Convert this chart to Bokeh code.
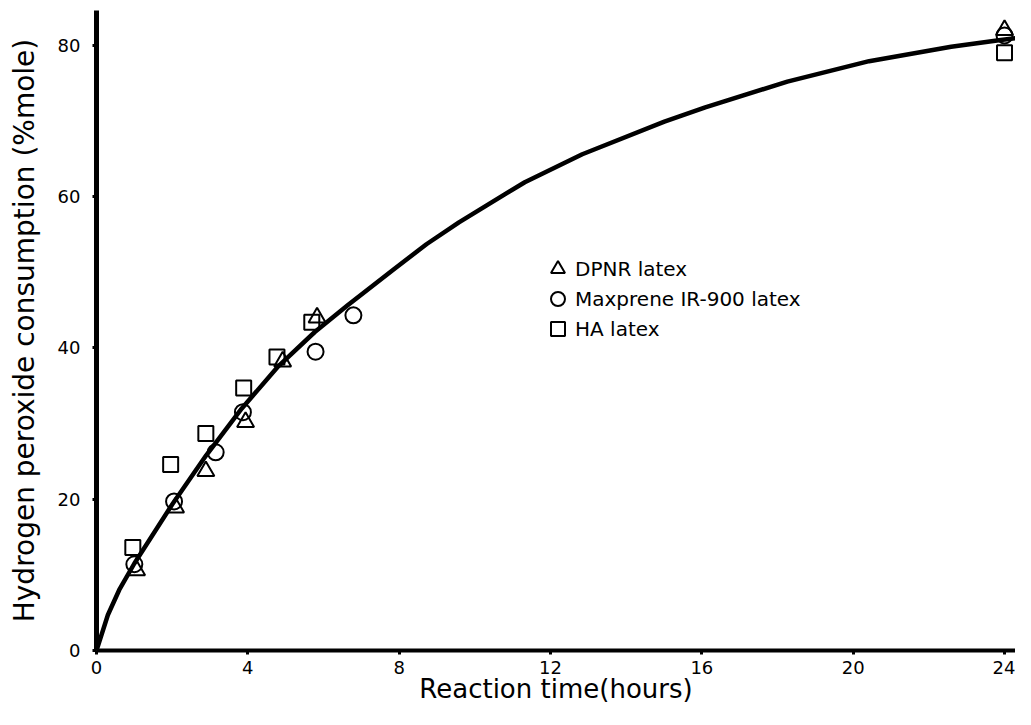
from bokeh.plotting import figure
from bokeh.models import Range1d, Legend, LegendItem, FixedTicker
from bokeh.embed import file_html
from bokeh.resources import INLINE

# ---- data ----
dpnr_time = [1.06, 2.09, 2.89, 3.94, 4.92, 5.83, 24.0]
dpnr_consumption = [10.6, 18.9, 23.7, 30.2, 38.2, 44.0, 82.0]

maxprene_time = [1.00, 2.05, 3.15, 3.87, 5.79, 6.79, 24.0]
maxprene_consumption = [11.4, 19.7, 26.2, 31.5, 39.5, 44.3, 81.3]

ha_time = [0.96, 1.96, 2.89, 3.89, 4.77, 5.69, 24.0]
ha_consumption = [13.6, 24.6, 28.7, 34.7, 38.8, 43.4, 79.0]

fit_time = [0, 0.3, 0.6, 1.0, 2.0, 2.9, 3.84, 4.81, 5.77, 6.63, 7.86, 8.72, 9.58,
            11.32, 12.84, 15.01, 16.09, 18.26, 20.42, 22.59, 23.9, 24.42]
fit_consumption = [0, 4.7, 8.0, 11.5, 19.3, 25.8, 32.0, 37.6, 42.1, 45.6, 50.4, 53.7, 56.6,
                   61.9, 65.6, 69.9, 71.8, 75.2, 77.9, 79.8, 80.7, 81.0]

x_ticks = [0, 4, 8, 12, 16, 20, 24]
y_ticks = [0, 20, 40, 60, 80]

series_labels = ["DPNR latex", "Maxprene IR-900 latex", "HA latex"]

FONT = "DejaVu Sans"

p = figure(width=1015, height=709, output_backend="svg", toolbar_location=None,
           x_range=Range1d(0, 24.29), y_range=Range1d(0, 84.6),
           min_border_left=96, min_border_right=0, min_border_top=10, min_border_bottom=59)
p.outline_line_color = None
p.background_fill_color = "white"
p.border_fill_color = "white"
p.xgrid.visible = False
p.ygrid.visible = False

# fitted curve
p.line(fit_time, fit_consumption, line_width=4.5, line_color="black",
       line_join="round", line_cap="round")

# markers
r_tri = p.scatter(dpnr_time, dpnr_consumption, marker="triangle", size=17,
                  fill_color=None, line_color="black", line_width=2)
r_cir = p.scatter(maxprene_time, maxprene_consumption, marker="circle", size=16,
                  fill_color=None, line_color="black", line_width=2)
r_sq = p.scatter(ha_time, ha_consumption, marker="square", size=15,
                 fill_color=None, line_color="black", line_width=2)

# axes
for ax in (p.xaxis[0], p.yaxis[0]):
    ax.axis_line_color = "black"
    ax.major_tick_line_width = 3
    ax.major_tick_line_color = "black"
    ax.major_tick_in = 0
    ax.major_tick_out = 4
    ax.minor_tick_line_color = None
    ax.major_label_text_font = FONT
    ax.major_label_text_font_size = "18px"
    ax.major_label_text_color = "black"
    ax.axis_label_text_font = FONT
    ax.axis_label_text_font_style = "normal"
    ax.axis_label_text_color = "black"

p.xaxis.axis_line_width = 4
p.yaxis.axis_line_width = 5
p.xaxis.ticker = FixedTicker(ticks=x_ticks)
p.yaxis.ticker = FixedTicker(ticks=y_ticks)
p.xaxis.major_label_standoff = 6
p.yaxis.major_label_standoff = 12
p.xaxis.axis_label = "Reaction time(hours)"
p.yaxis.axis_label = "Hydrogen peroxide consumption (%mole)"
p.xaxis.axis_label_text_font_size = "26px"
p.yaxis.axis_label_text_font_size = "28px"
p.xaxis.axis_label_standoff = -3
p.yaxis.axis_label_standoff = 14

# legend: one single-row legend per series, stacked 30px apart
renderers = [r_tri, r_cir, r_sq]
row_y = [364, 334, 304]
for lab, rend, ly in zip(series_labels, renderers, row_y):
    lg = Legend(items=[LegendItem(label=lab, renderers=[rend])],
                location=(444, ly), orientation="vertical",
                padding=0, margin=0, spacing=0,
                glyph_width=35, glyph_height=35, label_height=35,
                label_standoff=0,
                label_text_font=FONT, label_text_font_size="20px",
                label_text_color="black",
                border_line_color=None, background_fill_alpha=0)
    p.add_layout(lg)

open("out.html", "w").write(file_html(p, INLINE))
